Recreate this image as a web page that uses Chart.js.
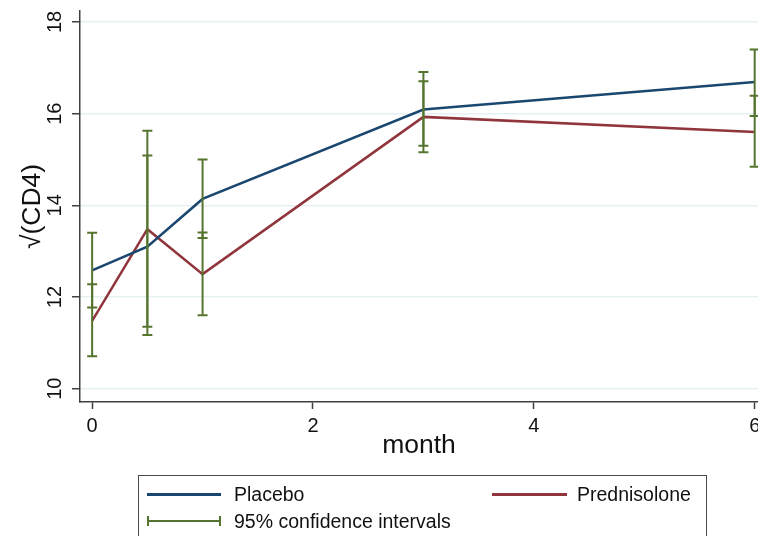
<!DOCTYPE html>
<html>
<head>
<meta charset="utf-8">
<script src="https://cdn.jsdelivr.net/npm/chart.js@4"></script>
<style>
  html, body { margin: 0; padding: 0; background: #fff; }
  body { width: 758px; height: 536px; overflow: hidden; position: relative; font-family: "Liberation Sans", Arial, sans-serif; }
  #lineChart { position: absolute; left: 0; top: 0; }
  #legendBox { position: absolute; left: 138px; top: 475px; width: 569px; height: 80px; border: 1px solid #4a4a4a; box-sizing: border-box; }
  .lbl { position: absolute; font-size: 19.5px; line-height: 24px; color: #111; white-space: nowrap; }
  .sw { position: absolute; }
</style>
</head>
<body>
<canvas id="lineChart" width="758" height="536"></canvas>

<div id="legendBox"></div>
<div class="sw" style="left:147px; top:493px; width:74px; height:3px; background:#1a476f;"></div>
<div class="lbl" style="left:234px; top:482px;">Placebo</div>
<div class="sw" style="left:492px; top:493px; width:75px; height:3px; background:#90353b;"></div>
<div class="lbl" style="left:577px; top:482px;">Prednisolone</div>
<div class="sw" style="left:147px; top:520px; width:74px; height:2px; background:#55752f;"></div>
<div class="sw" style="left:147px; top:516px; width:2px; height:10px; background:#55752f;"></div>
<div class="sw" style="left:219px; top:516px; width:2px; height:10px; background:#55752f;"></div>
<div class="lbl" style="left:234px; top:509px;">95% confidence intervals</div>

<script>
// values
const months = [0, 0.5, 1, 3, 6];
const placebo = [12.58, 13.10, 14.14, 16.09, 16.69];
const prednisolone = [11.48, 13.48, 12.50, 15.93, 15.60];
const placeboLow = [11.77, 11.17, 13.29, 15.30, 15.95];
const placeboHigh = [13.40, 15.09, 15.00, 16.91, 17.40];
const prednLow = [10.71, 11.35, 11.60, 15.16, 14.84];
const prednHigh = [12.28, 15.63, 13.41, 16.71, 16.39];
const xTicks = [0, 2, 4, 6];
const yTicks = [10, 12, 14, 16, 18];

const axisColor = '#404040';
const gridColor = '#e6eff1';
const ciColor = '#55752f';

const toPoints = (vals) => months.map((m, i) => ({x: m, y: vals[i]}));

// draws the 95% CI caps on top of the lines
const errorBars = {
    id: 'errorBars',
    afterDatasetsDraw(chart) {
        const ctx = chart.ctx;
        const xs = chart.scales.x;
        const ys = chart.scales.y;
        const groups = [[placeboLow, placeboHigh], [prednLow, prednHigh]];
        ctx.save();
        ctx.strokeStyle = ciColor;
        ctx.lineWidth = 2;
        groups.forEach(([lo, hi]) => {
            months.forEach((m, i) => {
                const px = xs.getPixelForValue(m);
                const y1 = ys.getPixelForValue(lo[i]);
                const y2 = ys.getPixelForValue(hi[i]);
                ctx.beginPath();
                ctx.moveTo(px, y1);
                ctx.lineTo(px, y2);
                ctx.moveTo(px - 5, y1);
                ctx.lineTo(px + 5, y1);
                ctx.moveTo(px - 5, y2);
                ctx.lineTo(px + 5, y2);
                ctx.stroke();
            });
        });
        ctx.restore();
    }
};

new Chart(document.getElementById('lineChart').getContext('2d'), {
    type: 'line',
    data: {
        datasets: [
            {
                label: 'Placebo',
                data: toPoints(placebo),
                borderColor: '#1a476f',
                borderWidth: 2.5,
                pointRadius: 0,
                tension: 0,
            },
            {
                label: 'Prednisolone',
                data: toPoints(prednisolone),
                borderColor: '#90353b',
                borderWidth: 2.5,
                pointRadius: 0,
                tension: 0,
            },
        ],
    },
    options: {
        responsive: false,
        animation: false,
        devicePixelRatio: 1,
        layout: {
            padding: {top: 11, left: 0, right: 0, bottom: 74},
        },
        scales: {
            x: {
                type: 'linear',
                min: -0.11,
                max: 6.03,
                afterBuildTicks: (s) => { s.ticks = xTicks.map(v => ({value: v})); },
                afterFit: (s) => { s.height = 60; s.paddingLeft = 0; s.paddingRight = 0; },
                ticks: {
                    color: '#111',
                    padding: 5,
                    maxRotation: 0,
                    font: {family: 'Liberation Sans', size: 20},
                },
                grid: {
                    drawOnChartArea: false,
                    tickLength: 7,
                    tickColor: axisColor,
                    tickWidth: 1.5,
                },
                border: {color: axisColor, width: 1.5},
                title: {
                    display: true,
                    text: 'month',
                    color: '#111',
                    padding: 0,
                    font: {family: 'Liberation Sans', size: 26.5},
                },
            },
            y: {
                min: 9.71,
                max: 18.24,
                afterBuildTicks: (s) => { s.ticks = yTicks.map(v => ({value: v})); },
                afterFit: (s) => { s.width = 80; s.paddingTop = 0; s.paddingBottom = 0; },
                ticks: {
                    color: '#111',
                    padding: 5,
                    minRotation: 90,
                    maxRotation: 90,
                    crossAlign: 'center',
                    font: {family: 'Liberation Sans', size: 20},
                },
                grid: {
                    color: gridColor,
                    lineWidth: 1.5,
                    tickLength: 8,
                    tickColor: axisColor,
                    tickWidth: 1.5,
                },
                border: {color: axisColor, width: 1.5},
                title: {
                    display: true,
                    text: '√(CD4)',
                    color: '#111',
                    padding: {top: 17, bottom: 0},
                    font: {family: 'Liberation Sans', size: 26.5},
                },
            },
        },
        plugins: {
            legend: {display: false},
            tooltip: {enabled: false},
        },
    },
    plugins: [errorBars],
});
</script>
</body>
</html>
